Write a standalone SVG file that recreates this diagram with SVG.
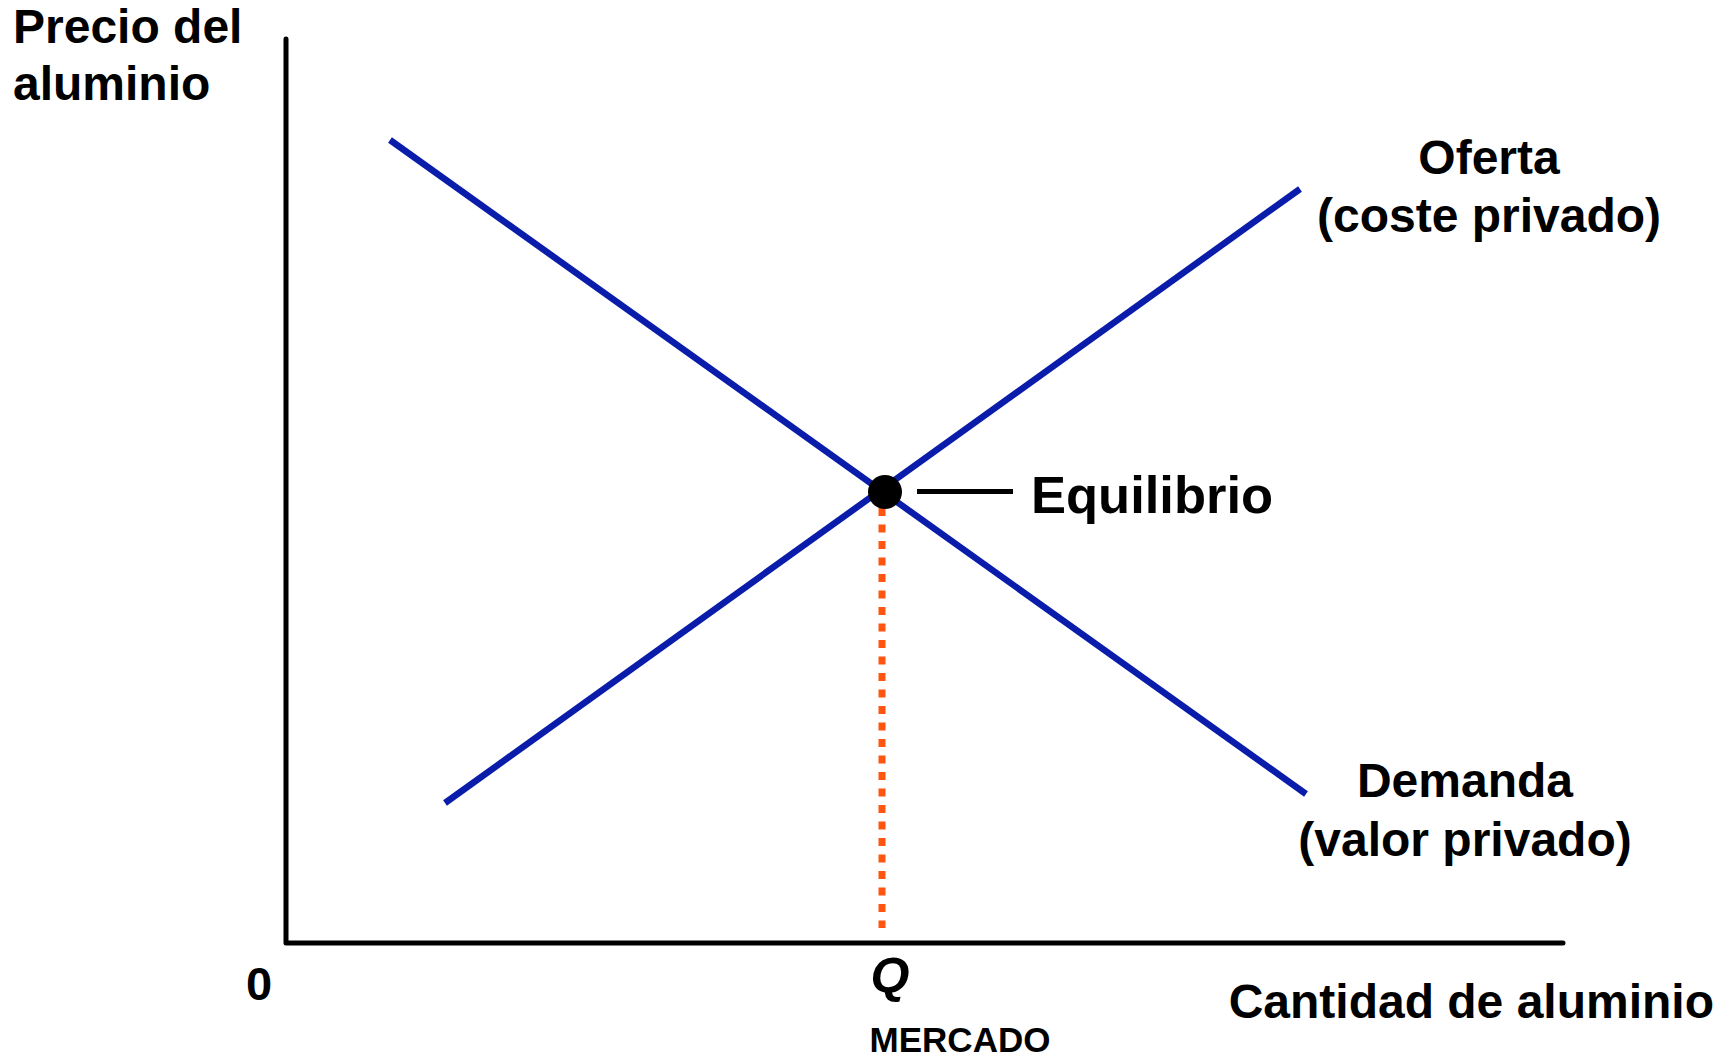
<svg xmlns="http://www.w3.org/2000/svg" width="1734" height="1058" viewBox="0 0 1734 1058">
<style>
.t{font-family:"Liberation Sans",Arial,sans-serif;font-weight:bold;fill:#000}
.axis{stroke:#000;stroke-width:5;fill:none;stroke-linecap:round;stroke-linejoin:round}
.curve{stroke:#0A1CAA;stroke-width:6.5;fill:none;stroke-linecap:butt}
.guide{stroke:#FF5511;stroke-width:7;stroke-dasharray:8 8.5;fill:none}
</style>
<rect width="1734" height="1058" fill="#fff"/>
<g id="axes">
<polyline class="axis" points="286,39 286,943 1563,943"/>
</g>
<g id="connectors">
<line id="demand-line" class="curve" x1="390" y1="140" x2="1306" y2="794"/>
<line id="supply-line" class="curve" x1="445" y1="803" x2="1300" y2="189"/>
<line id="q-guide" class="guide" x1="882" y1="508" x2="882" y2="928"/>
<line id="eq-leader" x1="917" y1="491.5" x2="1013" y2="491.5" stroke="#000" stroke-width="5"/>
</g>
<g id="equilibrium">
<circle cx="885" cy="492" r="17" fill="#000"/>
<text class="t" x="1031" y="513" font-size="52.5">Equilibrio</text>
</g>
<g id="y-label">
<text class="t" x="13" y="43" font-size="48">Precio del</text>
<text class="t" x="13" y="100" font-size="48">aluminio</text>
</g>
<g id="supply-label">
<text class="t" x="1489" y="174" font-size="48" text-anchor="middle">Oferta</text>
<text class="t" x="1489" y="232" font-size="48" text-anchor="middle">(coste privado)</text>
</g>
<g id="demand-label">
<text class="t" x="1465" y="797" font-size="48" text-anchor="middle">Demanda</text>
<text class="t" x="1465" y="856" font-size="48" text-anchor="middle">(valor privado)</text>
</g>
<g id="x-label">
<text class="t" x="1714" y="1018" font-size="48" text-anchor="end">Cantidad de aluminio</text>
</g>
<g id="origin">
<text class="t" x="259" y="1000" font-size="47" text-anchor="middle">0</text>
</g>
<g id="q-label">
<text class="t" x="890" y="993" font-size="50" font-style="italic" text-anchor="middle">Q</text>
<text class="t" x="960" y="1052" font-size="35" text-anchor="middle">MERCADO</text>
</g>
</svg>
